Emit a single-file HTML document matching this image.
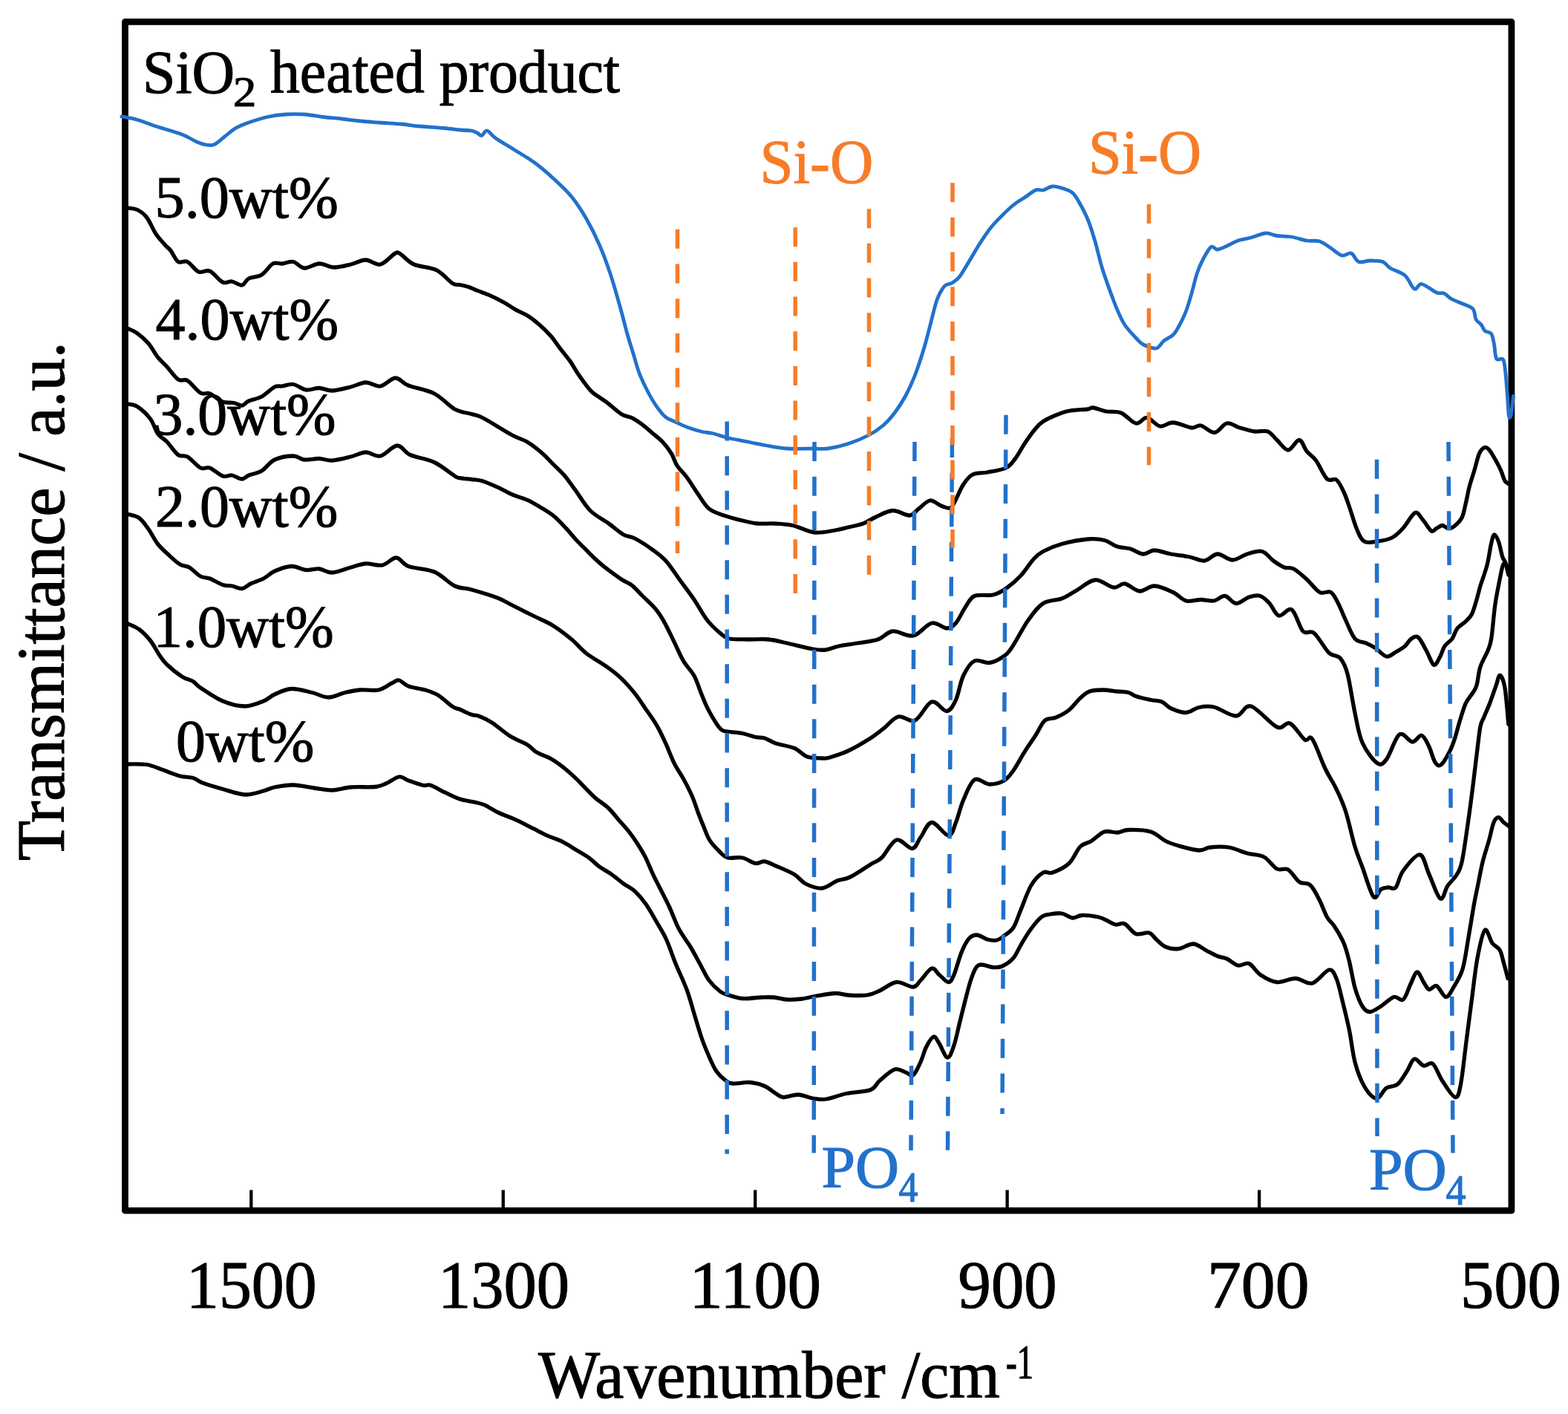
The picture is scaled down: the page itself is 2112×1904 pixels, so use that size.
<!DOCTYPE html>
<html><head><meta charset="utf-8"><title>FTIR spectra</title>
<style>
html,body{margin:0;padding:0;background:#fff;}
body{width:2112px;height:1904px;overflow:hidden;}
svg{display:block;}
text{font-family:"Liberation Serif","Times New Roman",serif;}
</style></head><body>
<svg width="2112" height="1904" viewBox="0 0 2112 1904">
<rect x="0" y="0" width="2112" height="1904" fill="#fff"/>
<rect x="168.5" y="29.35" width="1867.4" height="1600.85" fill="none" stroke="#000" stroke-width="8.8" stroke-linejoin="round"/>
<line x1="338.30" y1="1602.4" x2="338.30" y2="1627" stroke="#000" stroke-width="4.3"/>
<line x1="677.75" y1="1602.4" x2="677.75" y2="1627" stroke="#000" stroke-width="4.3"/>
<line x1="1017.20" y1="1602.4" x2="1017.20" y2="1627" stroke="#000" stroke-width="4.3"/>
<line x1="1356.65" y1="1602.4" x2="1356.65" y2="1627" stroke="#000" stroke-width="4.3"/>
<line x1="1696.10" y1="1602.4" x2="1696.10" y2="1627" stroke="#000" stroke-width="4.3"/>
<g fill="none" stroke-linejoin="round" stroke-linecap="round">
<path d="M163.8,157.0 C167.3,157.7 177.3,159.1 185.0,161.2 C192.7,163.4 200.0,166.7 210.0,170.0 C220.0,173.3 235.8,177.5 245.0,181.0 C254.2,184.5 259.6,188.7 265.0,191.0 C270.4,193.3 273.5,194.4 277.5,195.0 C281.5,195.6 284.6,196.3 288.8,194.5 C292.9,192.7 297.7,187.7 302.5,184.0 C307.3,180.3 312.1,175.7 317.5,172.5 C322.9,169.3 327.9,167.5 335.0,165.0 C342.1,162.5 351.7,159.3 360.0,157.5 C368.3,155.7 376.7,154.6 385.0,154.0 C393.3,153.4 401.7,153.4 410.0,154.0 C418.3,154.6 426.7,156.5 435.0,157.5 C443.3,158.5 451.7,159.1 460.0,160.0 C468.3,160.9 476.7,162.2 485.0,163.0 C493.3,163.8 500.8,164.3 510.0,165.0 C519.2,165.7 530.8,166.2 540.0,167.0 C549.2,167.8 555.4,169.1 565.0,170.0 C574.6,170.9 588.3,171.7 597.5,172.5 C606.7,173.3 613.8,174.4 620.0,175.0 C626.2,175.6 631.2,175.4 635.0,176.0 C638.8,176.6 640.2,177.7 642.5,178.8 C644.8,179.8 646.5,183.0 648.8,182.5 C651.0,182.0 652.9,175.4 656.0,176.0 C659.1,176.6 661.8,182.0 667.5,186.0 C673.2,190.0 681.2,194.5 690.0,200.0 C698.8,205.5 710.8,212.3 720.0,219.0 C729.2,225.7 736.7,232.3 745.0,240.0 C753.3,247.7 762.5,255.8 770.0,265.0 C777.5,274.2 783.8,284.2 790.0,295.0 C796.2,305.8 802.1,317.5 807.5,330.0 C812.9,342.5 817.9,356.2 822.5,370.0 C827.1,383.8 831.2,399.2 835.0,412.5 C838.8,425.8 842.0,439.3 845.0,450.0 C848.0,460.7 850.4,467.8 853.1,476.5 C855.8,485.2 857.7,493.7 861.0,502.3 C864.3,510.9 868.9,520.4 872.9,528.0 C876.9,535.6 880.8,542.2 884.8,547.8 C888.8,553.4 892.6,558.4 896.6,561.7 C900.6,565.0 903.5,565.3 908.5,567.6 C913.5,569.9 920.0,573.2 926.3,575.5 C932.6,577.8 940.5,580.2 946.1,581.5 C951.7,582.8 954.1,582.2 959.8,583.5 C965.4,584.8 972.0,587.6 980.0,589.5 C988.0,591.4 998.8,593.2 1007.5,595.0 C1016.2,596.8 1023.8,598.5 1032.5,600.0 C1041.2,601.5 1049.6,603.3 1060.0,604.0 C1070.4,604.7 1085.8,604.0 1095.0,604.0 C1104.2,604.0 1107.1,605.1 1115.0,604.0 C1122.9,602.9 1133.3,600.5 1142.5,597.5 C1151.7,594.5 1162.1,590.2 1170.0,586.0 C1177.9,581.8 1184.2,577.5 1190.0,572.5 C1195.8,567.5 1200.0,562.7 1205.0,556.0 C1210.0,549.3 1215.4,541.0 1220.0,532.5 C1224.6,524.0 1228.3,515.8 1232.5,505.0 C1236.7,494.2 1241.6,478.8 1245.0,467.5 C1248.4,456.2 1250.1,448.3 1253.0,437.5 C1255.9,426.7 1259.2,411.2 1262.5,402.5 C1265.8,393.8 1269.2,388.6 1272.5,385.0 C1275.8,381.4 1279.2,383.1 1282.5,381.0 C1285.8,378.9 1288.8,377.2 1292.5,372.5 C1296.2,367.8 1300.4,360.0 1305.0,352.5 C1309.6,345.0 1315.0,335.2 1320.0,327.5 C1325.0,319.8 1330.0,312.2 1335.0,306.0 C1340.0,299.8 1345.0,295.0 1350.0,290.0 C1355.0,285.0 1360.0,280.0 1365.0,276.0 C1370.0,272.0 1375.0,269.3 1380.0,266.0 C1385.0,262.7 1390.8,257.7 1395.0,256.0 C1399.2,254.3 1401.2,256.8 1405.0,256.0 C1408.8,255.2 1412.9,251.3 1417.5,251.0 C1422.1,250.7 1427.9,252.5 1432.5,254.0 C1437.1,255.5 1441.2,256.5 1445.0,260.0 C1448.8,263.5 1451.5,268.8 1455.0,275.0 C1458.5,281.2 1462.7,289.2 1466.0,297.5 C1469.3,305.8 1471.8,314.2 1475.0,325.0 C1478.2,335.8 1480.8,349.2 1485.0,362.5 C1489.2,375.8 1496.3,395.1 1500.0,405.0 C1503.7,414.9 1504.5,416.6 1507.0,422.0 C1509.5,427.4 1511.2,432.0 1515.0,437.5 C1518.8,443.0 1525.8,450.6 1530.0,455.0 C1534.2,459.4 1535.4,461.7 1540.0,464.0 C1544.6,466.3 1552.9,469.8 1557.5,469.0 C1562.1,468.2 1563.8,462.0 1567.5,459.0 C1571.2,456.0 1576.7,454.2 1580.0,451.0 C1583.3,447.8 1584.6,445.3 1587.5,440.0 C1590.4,434.7 1594.6,426.5 1597.5,419.0 C1600.4,411.5 1602.5,403.6 1605.0,395.0 C1607.5,386.4 1610.0,375.0 1612.5,367.5 C1615.0,360.0 1616.9,355.8 1620.0,350.0 C1623.1,344.2 1627.9,334.8 1631.2,332.5 C1634.6,330.2 1636.0,336.4 1640.0,336.0 C1644.0,335.6 1650.4,332.0 1655.0,330.0 C1659.6,328.0 1662.5,325.7 1667.5,324.0 C1672.5,322.3 1678.8,321.7 1685.0,320.0 C1691.2,318.3 1699.2,314.4 1705.0,314.0 C1710.8,313.6 1714.2,316.7 1720.0,317.5 C1725.8,318.3 1733.3,317.9 1740.0,319.0 C1746.7,320.1 1753.8,323.0 1760.0,324.0 C1766.2,325.0 1772.1,323.3 1777.5,325.0 C1782.9,326.7 1787.5,330.8 1792.5,334.0 C1797.5,337.2 1802.9,342.8 1807.5,344.0 C1812.1,345.2 1816.2,339.6 1820.0,341.0 C1823.8,342.4 1825.8,350.8 1830.0,352.5 C1834.2,354.2 1839.6,351.0 1845.0,351.0 C1850.4,351.0 1857.9,350.8 1862.5,352.5 C1867.1,354.2 1867.5,357.9 1872.5,361.0 C1877.5,364.1 1887.1,366.3 1892.5,371.0 C1897.9,375.7 1901.2,387.1 1905.0,389.0 C1908.8,390.9 1910.0,381.7 1915.0,382.5 C1920.0,383.3 1930.0,391.9 1935.0,394.0 C1940.0,396.1 1941.7,393.6 1945.0,395.0 C1948.3,396.4 1950.8,400.2 1955.0,402.5 C1959.2,404.8 1965.2,406.8 1970.0,409.0 C1974.8,411.2 1981.0,412.5 1984.0,416.0 C1987.0,419.5 1986.2,426.5 1988.0,430.0 C1989.8,433.5 1993.0,434.4 1995.0,437.0 C1997.0,439.6 1997.7,443.4 2000.0,445.5 C2002.3,447.6 2006.6,446.4 2008.7,449.5 C2010.8,452.6 2011.4,458.4 2012.6,464.0 C2013.8,469.6 2013.6,479.7 2015.6,483.0 C2017.6,486.3 2022.5,481.3 2024.5,484.0 C2026.5,486.7 2026.5,490.8 2027.5,499.0 C2028.5,507.2 2029.6,522.8 2030.4,533.0 C2031.2,543.2 2031.6,555.8 2032.4,560.0 C2033.2,564.2 2034.4,562.4 2035.4,558.0 C2036.4,553.6 2037.9,537.6 2038.4,533.5" stroke="#2271CB" stroke-width="4.8"/>
<path d="M172.5,280.0 C174.6,280.4 180.8,280.4 185.0,282.5 C189.2,284.6 193.3,287.1 197.5,292.5 C201.7,297.9 205.8,308.8 210.0,315.0 C214.2,321.2 219.2,326.2 222.5,330.0 C225.8,333.8 227.1,333.8 230.0,337.5 C232.9,341.2 236.2,350.0 240.0,352.5 C243.8,355.0 247.9,350.2 252.5,352.5 C257.1,354.8 262.5,363.9 267.5,366.0 C272.5,368.1 277.1,362.7 282.5,365.0 C287.9,367.3 295.0,377.7 300.0,380.0 C305.0,382.3 308.2,378.3 312.5,379.0 C316.8,379.7 322.2,384.7 326.0,384.0 C329.8,383.3 330.6,377.3 335.0,375.0 C339.4,372.7 347.1,373.3 352.5,370.0 C357.9,366.7 362.9,357.5 367.5,355.0 C372.1,352.5 375.4,355.4 380.0,355.0 C384.6,354.6 390.0,351.5 395.0,352.5 C400.0,353.5 404.2,360.6 410.0,361.0 C415.8,361.4 423.3,355.2 430.0,355.0 C436.7,354.8 442.9,359.8 450.0,360.0 C457.1,360.2 465.4,357.7 472.5,356.0 C479.6,354.3 485.8,350.0 492.5,350.0 C499.2,350.0 505.8,357.5 512.5,356.0 C519.2,354.5 527.9,343.2 532.5,341.0 C537.1,338.8 535.8,340.0 540.0,342.5 C544.2,345.0 549.5,352.5 557.5,356.0 C565.5,359.5 579.0,359.4 587.7,363.7 C596.4,367.9 604.2,378.2 609.5,381.5 C614.8,384.8 615.8,382.7 619.4,383.5 C623.0,384.3 627.3,385.1 631.3,386.4 C635.3,387.7 638.6,389.6 643.2,391.4 C647.8,393.2 653.1,394.7 659.0,397.3 C664.9,399.9 672.8,403.9 678.8,407.2 C684.8,410.5 689.4,414.1 694.7,417.1 C700.0,420.1 705.2,421.7 710.5,425.0 C715.8,428.3 721.0,432.3 726.3,436.9 C731.6,441.5 737.6,447.5 742.2,452.8 C746.8,458.1 749.7,463.0 754.0,468.6 C758.3,474.2 763.9,480.8 767.9,486.4 C771.9,492.0 774.5,497.4 777.8,502.3 C781.1,507.2 784.4,511.8 787.7,516.1 C791.0,520.4 792.7,523.7 797.6,528.0 C802.5,532.3 810.8,536.9 817.4,541.9 C824.0,546.9 831.6,554.2 837.2,557.7 C842.8,561.2 846.4,560.4 851.0,562.7 C855.6,565.0 860.7,568.5 865.0,571.6 C869.3,574.7 872.2,577.5 876.8,581.5 C881.4,585.5 888.1,590.3 892.7,595.3 C897.3,600.2 901.4,605.9 904.6,611.2 C907.8,616.5 908.6,621.8 912.0,627.0 C915.4,632.2 920.3,636.2 925.0,642.5 C929.7,648.8 935.0,657.9 940.0,665.0 C945.0,672.1 949.2,680.2 955.0,685.0 C960.8,689.8 967.5,691.3 975.0,694.0 C982.5,696.7 992.5,699.2 1000.0,701.0 C1007.5,702.8 1012.9,704.3 1020.0,705.0 C1027.1,705.7 1034.6,704.6 1042.5,705.0 C1050.4,705.4 1058.4,705.5 1067.5,707.5 C1076.6,709.5 1087.4,715.9 1097.0,717.0 C1106.6,718.1 1117.4,715.2 1125.0,714.0 C1132.6,712.8 1136.2,711.5 1142.5,710.0 C1148.8,708.5 1156.2,707.3 1162.5,705.0 C1168.8,702.7 1173.3,698.9 1180.0,696.0 C1186.7,693.1 1195.0,687.8 1202.5,687.5 C1210.0,687.2 1219.2,694.4 1225.0,694.0 C1230.8,693.6 1232.9,688.3 1237.5,685.0 C1242.1,681.7 1247.5,674.7 1252.5,674.0 C1257.5,673.3 1262.9,679.3 1267.5,681.0 C1272.1,682.7 1276.7,685.4 1280.0,684.0 C1283.3,682.6 1284.6,677.8 1287.5,672.5 C1290.4,667.2 1293.8,658.1 1297.5,652.5 C1301.2,646.9 1304.6,641.8 1310.0,639.0 C1315.4,636.2 1322.5,637.5 1330.0,636.0 C1337.5,634.5 1348.8,633.1 1355.0,630.0 C1361.2,626.9 1363.3,622.9 1367.5,617.5 C1371.7,612.1 1375.8,603.8 1380.0,597.5 C1384.2,591.2 1388.3,585.0 1392.5,580.0 C1396.7,575.0 1398.8,571.5 1405.0,567.5 C1411.2,563.5 1423.3,558.5 1430.0,556.0 C1436.7,553.5 1439.2,553.3 1445.0,552.5 C1450.8,551.7 1460.4,551.6 1465.0,551.0 C1469.6,550.4 1468.3,548.5 1472.5,549.0 C1476.7,549.5 1483.8,552.8 1490.0,554.0 C1496.2,555.2 1503.3,553.3 1510.0,556.0 C1516.7,558.7 1524.2,568.9 1530.0,570.0 C1535.8,571.1 1539.6,561.8 1545.0,562.5 C1550.4,563.2 1556.7,572.9 1562.5,574.0 C1568.3,575.1 1572.9,568.7 1580.0,569.0 C1587.1,569.3 1598.8,575.3 1605.0,576.0 C1611.2,576.7 1612.3,571.9 1617.5,573.0 C1622.7,574.1 1630.2,583.0 1636.0,582.5 C1641.8,582.0 1646.8,571.1 1652.5,570.0 C1658.2,568.9 1663.8,574.2 1670.0,576.0 C1676.2,577.8 1683.8,580.2 1690.0,581.0 C1696.2,581.8 1702.5,579.1 1707.5,581.0 C1712.5,582.9 1715.4,588.3 1720.0,592.5 C1724.6,596.7 1730.0,606.0 1735.0,606.0 C1740.0,606.0 1745.8,592.2 1750.0,592.5 C1754.2,592.8 1756.2,602.9 1760.0,607.5 C1763.8,612.1 1767.9,613.8 1772.5,620.0 C1777.1,626.2 1782.9,640.7 1787.5,645.0 C1792.1,649.3 1796.2,643.1 1800.0,646.0 C1803.8,648.9 1807.1,656.4 1810.0,662.5 C1812.9,668.6 1814.6,674.2 1817.5,682.5 C1820.4,690.8 1824.2,704.8 1827.5,712.5 C1830.8,720.2 1832.9,726.2 1837.5,729.0 C1842.1,731.8 1848.8,729.8 1855.0,729.0 C1861.2,728.2 1869.2,727.0 1875.0,724.0 C1880.8,721.0 1884.8,716.6 1890.0,711.0 C1895.2,705.4 1901.6,692.3 1906.0,690.5 C1910.4,688.7 1912.8,695.9 1916.5,700.0 C1920.2,704.1 1925.0,713.1 1928.0,715.0 C1931.0,716.9 1932.1,712.9 1934.6,711.6 C1937.1,710.4 1940.1,707.5 1942.8,707.5 C1945.5,707.5 1948.2,711.5 1951.0,711.6 C1953.8,711.7 1956.3,710.8 1959.3,708.3 C1962.3,705.8 1966.7,701.8 1969.2,696.8 C1971.7,691.8 1972.4,685.5 1974.1,678.6 C1975.8,671.7 1977.2,663.0 1979.1,655.6 C1981.0,648.2 1983.5,641.5 1985.7,634.1 C1987.9,626.7 1990.1,616.3 1992.3,611.1 C1994.5,605.9 1996.7,603.8 1998.9,602.8 C2001.1,601.8 2002.8,602.3 2005.5,605.3 C2008.2,608.3 2012.6,616.2 2015.3,621.0 C2018.0,625.8 2020.0,629.7 2021.9,634.1 C2023.8,638.5 2025.2,644.4 2026.9,647.3 C2028.6,650.2 2031.0,650.7 2031.8,651.4" stroke="#000" stroke-width="5.3"/>
<path d="M172.5,442.5 C174.6,443.5 180.4,445.4 185.0,448.8 C189.6,452.1 195.4,457.1 200.0,462.5 C204.6,467.9 208.3,475.8 212.5,481.0 C216.7,486.2 220.4,489.0 225.0,494.0 C229.6,499.0 235.4,507.9 240.0,511.0 C244.6,514.1 247.5,509.5 252.5,512.5 C257.5,515.5 265.0,526.1 270.0,529.0 C275.0,531.9 277.5,528.0 282.5,530.0 C287.5,532.0 294.6,538.9 300.0,541.0 C305.4,543.1 310.7,541.7 315.0,542.5 C319.3,543.3 322.7,546.4 326.0,546.0 C329.3,545.6 330.6,542.0 335.0,540.0 C339.4,538.0 346.7,537.2 352.5,534.0 C358.3,530.8 365.4,523.3 370.0,521.0 C374.6,518.7 375.8,520.6 380.0,520.0 C384.2,519.4 389.6,516.7 395.0,517.5 C400.4,518.3 406.7,524.2 412.5,525.0 C418.3,525.8 424.2,522.3 430.0,522.5 C435.8,522.7 440.4,526.2 447.5,526.0 C454.6,525.8 465.0,522.8 472.5,521.0 C480.0,519.2 485.8,515.2 492.5,515.0 C499.2,514.8 505.8,521.0 512.5,520.0 C519.2,519.0 526.2,509.2 532.5,509.0 C538.8,508.8 541.2,515.5 550.0,519.0 C558.8,522.5 574.6,524.7 585.0,530.0 C595.4,535.3 604.2,546.4 612.5,551.0 C620.8,555.6 628.8,555.6 635.0,557.5 C641.2,559.4 640.8,557.8 650.0,562.5 C659.2,567.2 680.0,580.6 690.0,586.0 C700.0,591.4 703.3,591.0 710.0,595.0 C716.7,599.0 724.2,605.0 730.0,610.0 C735.8,615.0 740.0,620.0 745.0,625.0 C750.0,630.0 755.0,634.2 760.0,640.0 C765.0,645.8 769.2,652.1 775.0,660.0 C780.8,667.9 787.5,680.0 795.0,687.5 C802.5,695.0 812.5,699.6 820.0,705.0 C827.5,710.4 834.2,716.7 840.0,720.0 C845.8,723.3 848.3,721.5 855.0,725.0 C861.7,728.5 872.9,735.8 880.0,741.0 C887.1,746.2 891.7,749.5 897.5,756.0 C903.3,762.5 908.8,771.4 915.0,780.0 C921.2,788.6 928.8,798.3 935.0,807.5 C941.2,816.7 946.7,827.5 952.5,835.0 C958.3,842.5 965.0,848.3 970.0,852.5 C975.0,856.7 976.2,858.6 982.5,860.0 C988.8,861.4 998.8,860.8 1007.5,861.0 C1016.2,861.2 1026.2,860.2 1035.0,861.0 C1043.8,861.8 1050.0,863.8 1060.0,866.0 C1070.0,868.2 1086.2,872.5 1095.0,874.0 C1103.8,875.5 1106.7,875.7 1112.5,875.0 C1118.3,874.3 1122.9,871.5 1130.0,870.0 C1137.1,868.5 1146.2,867.5 1155.0,866.0 C1163.8,864.5 1174.6,863.7 1182.5,861.0 C1190.4,858.3 1194.6,850.8 1202.5,850.0 C1210.4,849.2 1221.2,857.8 1230.0,856.0 C1238.8,854.2 1247.5,840.7 1255.0,839.0 C1262.5,837.3 1269.6,846.0 1275.0,846.0 C1280.4,846.0 1283.3,843.7 1287.5,839.0 C1291.7,834.3 1295.8,824.1 1300.0,818.0 C1304.2,811.9 1306.2,805.3 1312.5,802.5 C1318.8,799.7 1330.4,802.7 1337.5,801.0 C1344.6,799.3 1348.8,796.8 1355.0,792.5 C1361.2,788.2 1368.8,781.7 1375.0,775.0 C1381.2,768.3 1387.5,757.9 1392.5,752.5 C1397.5,747.1 1398.8,745.8 1405.0,742.5 C1411.2,739.2 1420.0,735.2 1430.0,732.5 C1440.0,729.8 1455.4,726.8 1465.0,726.0 C1474.6,725.2 1480.8,725.8 1487.5,727.5 C1494.2,729.2 1499.2,734.1 1505.0,736.0 C1510.8,737.9 1516.7,737.3 1522.5,739.0 C1528.3,740.7 1534.6,745.7 1540.0,746.0 C1545.4,746.3 1548.8,741.0 1555.0,741.0 C1561.2,741.0 1569.1,744.5 1577.0,746.0 C1584.9,747.5 1594.9,748.5 1602.5,750.0 C1610.1,751.5 1616.2,755.7 1622.5,755.0 C1628.8,754.3 1633.8,746.2 1640.0,746.0 C1646.2,745.8 1653.3,754.0 1660.0,754.0 C1666.7,754.0 1673.3,747.9 1680.0,746.0 C1686.7,744.1 1694.2,741.0 1700.0,742.5 C1705.8,744.0 1710.0,751.4 1715.0,755.0 C1720.0,758.6 1725.4,762.2 1730.0,764.0 C1734.6,765.8 1737.5,763.3 1742.5,766.0 C1747.5,768.7 1754.2,774.8 1760.0,780.0 C1765.8,785.2 1772.1,794.6 1777.5,797.5 C1782.9,800.4 1788.3,795.0 1792.5,797.5 C1796.7,800.0 1799.2,806.2 1802.5,812.5 C1805.8,818.8 1808.8,827.1 1812.5,835.0 C1816.2,842.9 1820.4,854.8 1825.0,860.0 C1829.6,865.2 1835.4,863.9 1840.0,866.0 C1844.6,868.1 1847.9,869.5 1852.5,872.5 C1857.1,875.5 1862.9,883.1 1867.5,884.0 C1872.1,884.9 1875.8,880.3 1880.0,878.0 C1884.2,875.7 1889.2,872.8 1892.5,870.0 C1895.8,867.2 1897.1,863.0 1900.0,861.0 C1902.9,859.0 1906.4,855.4 1910.0,858.0 C1913.6,860.6 1917.9,870.3 1921.4,876.5 C1925.0,882.7 1928.3,894.0 1931.3,895.4 C1934.3,896.8 1937.0,888.9 1939.5,884.7 C1942.0,880.5 1943.2,874.1 1946.0,870.0 C1948.8,865.9 1953.2,863.9 1956.0,860.0 C1958.8,856.1 1959.6,850.6 1962.6,846.7 C1965.6,842.8 1970.8,840.1 1974.1,836.8 C1977.4,833.5 1979.9,831.9 1982.4,827.0 C1984.9,822.1 1987.1,813.5 1989.0,807.2 C1990.9,800.9 1992.2,794.5 1993.9,789.0 C1995.6,783.5 1997.2,779.4 1998.9,774.2 C2000.6,769.0 2002.2,764.8 2003.8,757.7 C2005.4,750.6 2007.2,737.7 2008.7,731.4 C2010.2,725.1 2011.2,720.1 2012.9,719.8 C2014.6,719.5 2016.8,724.8 2018.6,729.7 C2020.4,734.7 2022.1,744.8 2023.6,749.5 C2025.1,754.2 2026.3,753.6 2027.7,757.7 C2029.1,761.8 2031.1,771.5 2031.8,774.2" stroke="#000" stroke-width="5.3"/>
<path d="M172.5,544.0 C174.6,544.6 180.0,544.2 185.0,547.5 C190.0,550.8 197.9,557.9 202.5,564.0 C207.1,570.1 208.8,578.8 212.5,584.0 C216.2,589.2 220.4,590.2 225.0,595.0 C229.6,599.8 235.4,609.2 240.0,612.5 C244.6,615.8 247.5,612.1 252.5,615.0 C257.5,617.9 265.0,627.5 270.0,630.0 C275.0,632.5 277.5,628.2 282.5,630.0 C287.5,631.8 295.0,639.3 300.0,641.0 C305.0,642.7 308.2,639.3 312.5,640.0 C316.8,640.7 322.2,645.0 326.0,645.0 C329.8,645.0 330.6,641.8 335.0,640.0 C339.4,638.2 346.7,637.5 352.5,634.0 C358.3,630.5 362.9,622.3 370.0,619.0 C377.1,615.7 388.3,614.0 395.0,614.0 C401.7,614.0 404.2,618.4 410.0,619.0 C415.8,619.6 423.8,617.3 430.0,617.5 C436.2,617.7 440.4,620.4 447.5,620.0 C454.6,619.6 465.0,616.8 472.5,615.0 C480.0,613.2 485.8,609.2 492.5,609.0 C499.2,608.8 505.4,615.5 512.5,614.0 C519.6,612.5 528.3,600.2 535.0,600.0 C541.7,599.8 544.2,608.8 552.5,612.5 C560.8,616.2 575.0,617.8 585.0,622.5 C595.0,627.2 606.8,637.5 612.5,641.0 C618.2,644.5 615.6,642.9 619.4,643.6 C623.1,644.4 630.0,644.9 635.0,645.5 C640.0,646.1 643.1,645.7 649.1,647.5 C655.1,649.3 664.0,653.3 670.9,656.4 C677.8,659.5 684.1,663.5 690.7,666.3 C697.3,669.1 704.2,670.5 710.5,673.3 C716.8,676.1 722.4,679.6 728.3,683.2 C734.2,686.8 740.5,690.4 746.1,695.0 C751.7,699.6 757.0,705.6 762.0,710.9 C767.0,716.2 771.5,722.1 775.8,726.7 C780.1,731.3 783.4,734.3 787.7,738.6 C792.0,742.9 797.0,748.2 801.6,752.5 C806.2,756.8 809.5,759.8 815.4,764.4 C821.3,769.0 831.2,776.2 837.2,780.2 C843.2,784.2 846.5,784.5 851.1,788.1 C855.7,791.7 859.7,796.7 865.0,802.0 C870.3,807.3 877.8,813.9 882.8,819.8 C887.8,825.7 890.4,830.0 894.7,837.6 C899.0,845.2 904.2,856.6 908.5,865.3 C912.8,874.0 916.0,882.4 920.4,889.9 C924.8,897.4 930.9,902.5 935.0,910.0 C939.1,917.5 941.7,927.1 945.0,935.0 C948.3,942.9 950.8,949.8 955.0,957.5 C959.2,965.2 965.8,976.4 970.0,981.0 C974.2,985.6 975.0,983.9 980.0,985.0 C985.0,986.1 993.8,986.2 1000.0,987.5 C1006.2,988.8 1012.5,991.4 1017.5,992.5 C1022.5,993.6 1025.4,992.6 1030.0,994.0 C1034.6,995.4 1038.3,998.8 1045.0,1001.0 C1051.7,1003.2 1062.9,1004.5 1070.0,1007.5 C1077.1,1010.5 1081.2,1016.8 1087.5,1019.0 C1093.8,1021.2 1102.5,1020.8 1107.5,1021.0 C1112.5,1021.2 1111.7,1021.7 1117.5,1020.0 C1123.3,1018.3 1133.3,1015.3 1142.5,1011.0 C1151.7,1006.7 1164.6,999.0 1172.5,994.0 C1180.4,989.0 1183.8,985.8 1190.0,981.0 C1196.2,976.2 1202.9,966.8 1210.0,965.0 C1217.1,963.2 1225.0,973.3 1232.5,970.0 C1240.0,966.7 1247.9,947.1 1255.0,945.0 C1262.1,942.9 1269.6,957.9 1275.0,957.5 C1280.4,957.1 1283.8,950.4 1287.5,942.5 C1291.2,934.6 1293.3,918.8 1297.5,910.0 C1301.7,901.2 1306.7,892.9 1312.5,890.0 C1318.3,887.1 1326.2,893.3 1332.5,892.5 C1338.8,891.7 1345.0,888.3 1350.0,885.0 C1355.0,881.7 1356.7,880.8 1362.5,872.5 C1368.3,864.2 1377.9,845.0 1385.0,835.0 C1392.1,825.0 1397.5,817.3 1405.0,812.5 C1412.5,807.7 1422.5,808.9 1430.0,806.0 C1437.5,803.1 1442.5,799.2 1450.0,795.0 C1457.5,790.8 1466.7,781.7 1475.0,781.0 C1483.3,780.3 1493.3,790.2 1500.0,791.0 C1506.7,791.8 1509.2,785.2 1515.0,786.0 C1520.8,786.8 1528.3,795.5 1535.0,796.0 C1541.7,796.5 1547.5,788.8 1555.0,789.0 C1562.5,789.2 1572.9,794.2 1580.0,797.5 C1587.1,800.8 1591.2,807.3 1597.5,809.0 C1603.8,810.7 1611.2,807.5 1617.5,807.5 C1623.8,807.5 1629.6,809.8 1635.0,809.0 C1640.4,808.2 1645.0,801.9 1650.0,802.5 C1655.0,803.1 1659.6,812.2 1665.0,812.5 C1670.4,812.8 1677.1,805.7 1682.5,804.0 C1687.9,802.3 1692.9,801.1 1697.5,802.5 C1702.1,803.9 1705.8,808.1 1710.0,812.5 C1714.2,816.9 1717.5,827.6 1722.5,829.0 C1727.5,830.4 1734.6,817.5 1740.0,821.0 C1745.4,824.5 1750.0,844.8 1755.0,850.0 C1760.0,855.2 1764.2,847.7 1770.0,852.5 C1775.8,857.3 1784.2,873.4 1790.0,879.0 C1795.8,884.6 1800.8,881.2 1805.0,886.0 C1809.2,890.8 1811.7,895.2 1815.0,907.5 C1818.3,919.8 1821.7,944.6 1825.0,960.0 C1828.3,975.4 1830.0,988.8 1835.0,1000.0 C1840.0,1011.2 1849.6,1023.8 1855.0,1027.5 C1860.4,1031.2 1862.5,1028.9 1867.5,1022.5 C1872.5,1016.1 1879.2,992.9 1885.0,989.0 C1890.8,985.1 1897.5,998.8 1902.5,999.0 C1907.5,999.2 1911.1,989.2 1914.8,990.2 C1918.5,991.2 1921.7,999.0 1924.7,1005.0 C1927.7,1011.0 1930.2,1022.3 1933.0,1026.4 C1935.8,1030.5 1937.9,1032.2 1941.2,1029.7 C1944.5,1027.2 1949.7,1017.4 1952.7,1011.6 C1955.7,1005.8 1957.1,1001.7 1959.3,995.1 C1961.5,988.5 1963.4,980.0 1965.9,972.0 C1968.4,964.0 1971.1,953.9 1974.1,947.3 C1977.1,940.7 1981.5,936.6 1984.0,932.5 C1986.5,928.4 1987.3,928.4 1989.0,922.6 C1990.7,916.8 1991.4,905.6 1993.9,897.9 C1996.4,890.2 2001.3,882.8 2003.8,876.5 C2006.3,870.2 2007.0,870.2 2008.7,860.0 C2010.4,849.8 2011.8,828.9 2013.7,815.4 C2015.6,801.9 2018.4,788.4 2020.3,779.1 C2022.2,769.8 2023.3,761.9 2025.2,759.4 C2027.1,756.9 2030.7,763.5 2031.8,764.3" stroke="#000" stroke-width="5.3"/>
<path d="M172.5,692.5 C175.0,693.3 182.9,694.2 187.5,697.5 C192.1,700.8 195.8,706.7 200.0,712.5 C204.2,718.3 207.9,726.7 212.5,732.5 C217.1,738.3 222.5,742.9 227.5,747.5 C232.5,752.1 237.9,757.2 242.5,760.0 C247.1,762.8 250.4,761.3 255.0,764.0 C259.6,766.7 265.4,773.5 270.0,776.0 C274.6,778.5 277.5,777.1 282.5,779.0 C287.5,780.9 295.0,785.8 300.0,787.5 C305.0,789.2 308.2,788.2 312.5,789.0 C316.8,789.8 321.8,793.0 326.0,792.5 C330.2,792.0 332.7,788.2 337.5,786.0 C342.3,783.8 349.6,781.8 355.0,779.0 C360.4,776.2 363.8,771.8 370.0,769.0 C376.2,766.2 385.4,762.8 392.5,762.5 C399.6,762.2 406.2,766.9 412.5,767.5 C418.8,768.1 424.2,765.4 430.0,766.0 C435.8,766.6 440.4,771.3 447.5,771.0 C454.6,770.7 465.0,766.0 472.5,764.0 C480.0,762.0 485.4,759.5 492.5,759.0 C499.6,758.5 508.1,762.3 515.0,761.0 C521.9,759.7 527.9,750.8 533.8,751.0 C539.6,751.2 541.5,759.3 550.0,762.5 C558.5,765.7 574.6,765.6 585.0,770.0 C595.4,774.4 604.2,785.0 612.5,789.0 C620.8,793.0 625.4,791.3 635.0,794.0 C644.6,796.7 660.8,801.5 670.0,805.0 C679.2,808.5 681.7,810.8 690.0,815.0 C698.3,819.2 710.8,825.4 720.0,830.0 C729.2,834.6 736.7,837.3 745.0,842.5 C753.3,847.7 762.5,854.8 770.0,861.0 C777.5,867.2 782.1,873.9 790.0,880.0 C797.9,886.1 809.5,892.3 817.4,897.9 C825.3,903.5 830.9,907.8 837.2,913.8 C843.5,919.8 849.7,927.0 855.0,933.6 C860.3,940.2 863.9,946.1 868.9,953.4 C873.9,960.6 880.2,969.2 884.8,977.1 C889.4,985.0 892.6,992.3 896.6,1000.9 C900.6,1009.5 904.5,1020.7 908.5,1028.6 C912.5,1036.5 916.4,1041.1 920.4,1048.4 C924.4,1055.7 929.0,1064.6 932.3,1072.2 C935.6,1079.8 937.6,1087.1 940.2,1094.0 C942.8,1100.9 945.5,1107.5 948.1,1113.8 C950.7,1120.1 952.4,1126.0 956.0,1131.6 C959.6,1137.2 966.0,1143.6 970.0,1147.5 C974.0,1151.4 975.0,1153.8 980.0,1155.0 C985.0,1156.2 993.8,1153.8 1000.0,1155.0 C1006.2,1156.2 1012.5,1161.7 1017.5,1162.5 C1022.5,1163.3 1025.4,1159.4 1030.0,1160.0 C1034.6,1160.6 1038.3,1163.1 1045.0,1166.0 C1051.7,1168.9 1063.3,1173.5 1070.0,1177.5 C1076.7,1181.5 1078.8,1186.9 1085.0,1190.0 C1091.2,1193.1 1100.4,1196.7 1107.5,1196.0 C1114.6,1195.3 1121.2,1188.5 1127.5,1186.0 C1133.8,1183.5 1137.5,1184.7 1145.0,1181.0 C1152.5,1177.3 1165.4,1168.3 1172.5,1164.0 C1179.6,1159.7 1181.7,1160.5 1187.5,1155.0 C1193.3,1149.5 1200.6,1133.1 1207.5,1131.0 C1214.4,1128.9 1223.3,1143.1 1228.8,1142.5 C1234.2,1141.9 1235.6,1133.3 1240.0,1127.5 C1244.4,1121.7 1248.8,1107.9 1255.0,1107.5 C1261.2,1107.1 1272.1,1125.0 1277.5,1125.0 C1282.9,1125.0 1284.2,1115.4 1287.5,1107.5 C1290.8,1099.6 1293.3,1087.1 1297.5,1077.5 C1301.7,1067.9 1306.7,1053.6 1312.5,1050.0 C1318.3,1046.4 1325.8,1055.8 1332.5,1056.0 C1339.2,1056.2 1347.1,1054.1 1352.5,1051.0 C1357.9,1047.9 1360.4,1043.9 1365.0,1037.5 C1369.6,1031.1 1375.0,1020.4 1380.0,1012.5 C1385.0,1004.6 1390.4,997.1 1395.0,990.0 C1399.6,982.9 1402.9,974.0 1407.5,970.0 C1412.1,966.0 1417.1,968.3 1422.5,966.0 C1427.9,963.7 1434.6,960.3 1440.0,956.0 C1445.4,951.7 1450.4,944.2 1455.0,940.0 C1459.6,935.8 1462.5,932.8 1467.5,931.0 C1472.5,929.2 1478.8,929.0 1485.0,929.0 C1491.2,929.0 1499.2,930.4 1505.0,931.0 C1510.8,931.6 1515.8,931.4 1520.0,932.5 C1524.2,933.6 1525.0,935.8 1530.0,937.5 C1535.0,939.2 1544.2,941.2 1550.0,942.5 C1555.8,943.8 1560.4,943.1 1565.0,945.0 C1569.6,946.9 1572.1,951.6 1577.5,954.0 C1582.9,956.4 1591.2,959.8 1597.5,959.5 C1603.8,959.2 1608.8,953.8 1615.0,952.5 C1621.2,951.2 1626.7,950.1 1635.0,952.0 C1643.3,953.9 1656.7,964.2 1665.0,964.0 C1673.3,963.8 1675.8,948.5 1685.0,951.0 C1694.2,953.5 1711.2,975.2 1720.0,979.0 C1728.8,982.8 1731.2,971.2 1737.5,974.0 C1743.8,976.8 1752.5,992.5 1757.5,996.0 C1762.5,999.5 1762.9,988.5 1767.5,995.0 C1772.1,1001.5 1779.6,1023.8 1785.0,1035.0 C1790.4,1046.2 1795.4,1052.9 1800.0,1062.5 C1804.6,1072.1 1808.3,1079.6 1812.5,1092.5 C1816.7,1105.4 1821.2,1127.5 1825.0,1140.0 C1828.8,1152.5 1830.8,1156.2 1835.0,1167.5 C1839.2,1178.8 1845.8,1202.5 1850.0,1207.5 C1854.2,1212.5 1856.7,1199.6 1860.0,1197.5 C1863.3,1195.4 1866.7,1195.4 1870.0,1195.0 C1873.3,1194.6 1876.7,1198.8 1880.0,1195.0 C1883.3,1191.2 1884.6,1179.8 1890.0,1172.5 C1895.4,1165.2 1906.7,1150.2 1912.5,1151.0 C1918.3,1151.8 1920.4,1167.7 1925.0,1177.5 C1929.6,1187.3 1935.8,1207.5 1940.0,1210.0 C1944.2,1212.5 1946.3,1197.8 1950.0,1192.5 C1953.7,1187.2 1958.8,1183.4 1962.0,1178.0 C1965.2,1172.6 1966.6,1171.8 1969.2,1160.0 C1971.8,1148.2 1974.9,1124.2 1977.4,1107.2 C1979.9,1090.2 1982.1,1072.8 1984.0,1057.7 C1985.9,1042.6 1987.3,1029.7 1989.0,1016.5 C1990.7,1003.3 1992.2,987.1 1993.9,978.6 C1995.6,970.1 1996.7,971.0 1998.9,965.5 C2001.1,960.0 2004.4,952.9 2007.1,945.7 C2009.8,938.6 2013.1,928.7 2015.3,922.6 C2017.5,916.5 2018.4,908.9 2020.3,909.4 C2022.2,909.9 2025.0,914.9 2026.9,925.9 C2028.8,936.9 2031.0,967.1 2031.8,975.3" stroke="#000" stroke-width="5.3"/>
<path d="M172.5,840.0 C175.0,841.2 182.5,843.8 187.5,847.5 C192.5,851.2 197.9,856.7 202.5,862.5 C207.1,868.3 211.2,877.1 215.0,882.5 C218.8,887.9 220.0,890.2 225.0,895.0 C230.0,899.8 239.2,907.2 245.0,911.0 C250.8,914.8 255.8,915.0 260.0,917.5 C264.2,920.0 263.3,921.6 270.0,926.0 C276.7,930.4 290.0,939.8 300.0,944.0 C310.0,948.2 320.8,951.0 330.0,951.0 C339.2,951.0 348.3,946.7 355.0,944.0 C361.7,941.3 363.8,937.8 370.0,935.0 C376.2,932.2 384.2,927.9 392.5,927.5 C400.8,927.1 411.7,930.6 420.0,932.5 C428.3,934.4 435.0,939.0 442.5,939.0 C450.0,939.0 457.9,934.2 465.0,932.5 C472.1,930.8 477.5,929.6 485.0,929.0 C492.5,928.4 502.9,930.5 510.0,929.0 C517.1,927.5 522.9,922.2 527.5,920.0 C532.1,917.8 533.8,915.3 537.5,916.0 C541.2,916.7 544.2,921.8 550.0,924.0 C555.8,926.2 565.8,927.0 572.5,929.0 C579.2,931.0 583.8,932.3 590.0,936.0 C596.2,939.7 604.6,948.2 609.5,951.4 C614.4,954.6 615.1,953.5 619.4,955.3 C623.7,957.1 630.9,960.8 635.2,962.3 C639.5,963.8 640.5,962.5 645.1,964.3 C649.7,966.1 656.1,968.8 663.0,973.2 C669.9,977.7 678.8,986.0 686.7,991.0 C694.6,996.0 704.5,999.3 710.5,1002.9 C716.5,1006.5 717.1,1009.7 722.4,1012.8 C727.7,1015.9 736.3,1018.4 742.2,1021.7 C748.1,1025.0 752.7,1028.5 758.0,1032.6 C763.3,1036.7 768.9,1041.8 773.9,1046.4 C778.9,1051.0 783.1,1055.7 787.7,1060.3 C792.3,1064.9 796.3,1069.6 801.6,1074.2 C806.9,1078.8 814.1,1083.0 819.4,1088.0 C824.7,1093.0 828.7,1098.6 833.3,1103.9 C837.9,1109.2 843.1,1114.8 847.1,1119.8 C851.1,1124.8 853.4,1128.0 857.0,1133.6 C860.6,1139.2 864.9,1145.8 868.9,1153.5 C872.9,1161.2 875.4,1168.8 880.8,1179.9 C886.1,1191.0 895.5,1208.3 901.0,1220.0 C906.5,1231.7 909.2,1240.8 914.0,1250.0 C918.8,1259.2 925.2,1267.1 930.0,1275.0 C934.8,1282.9 938.3,1290.0 942.5,1297.5 C946.7,1305.0 950.4,1313.8 955.0,1320.0 C959.6,1326.2 965.8,1331.8 970.0,1335.0 C974.2,1338.2 975.0,1337.9 980.0,1339.5 C985.0,1341.1 992.5,1343.9 1000.0,1344.5 C1007.5,1345.1 1017.9,1343.2 1025.0,1343.0 C1032.1,1342.8 1036.7,1342.5 1042.5,1343.0 C1048.3,1343.5 1053.8,1345.7 1060.0,1346.0 C1066.2,1346.3 1073.3,1345.8 1080.0,1345.0 C1086.7,1344.2 1092.5,1342.2 1100.0,1341.0 C1107.5,1339.8 1117.9,1337.7 1125.0,1337.5 C1132.1,1337.3 1135.4,1339.6 1142.5,1340.0 C1149.6,1340.4 1160.4,1341.0 1167.5,1340.0 C1174.6,1339.0 1178.3,1336.9 1185.0,1334.0 C1191.7,1331.1 1200.0,1323.3 1207.5,1322.5 C1215.0,1321.7 1224.6,1329.4 1230.0,1329.0 C1235.4,1328.6 1235.8,1324.2 1240.0,1320.0 C1244.2,1315.8 1250.8,1305.2 1255.0,1304.0 C1259.2,1302.8 1261.2,1309.4 1265.0,1312.5 C1268.8,1315.6 1274.2,1322.5 1277.5,1322.5 C1280.8,1322.5 1282.1,1319.2 1285.0,1312.5 C1287.9,1305.8 1291.7,1290.6 1295.0,1282.5 C1298.3,1274.4 1301.5,1267.9 1305.0,1264.0 C1308.5,1260.1 1311.8,1258.8 1316.0,1259.0 C1320.2,1259.2 1325.6,1263.8 1330.0,1265.0 C1334.4,1266.2 1338.8,1266.8 1342.5,1266.0 C1346.2,1265.2 1348.8,1262.8 1352.5,1260.0 C1356.2,1257.2 1361.2,1254.8 1365.0,1249.0 C1368.8,1243.2 1371.0,1234.5 1375.0,1225.0 C1379.0,1215.5 1384.0,1200.3 1389.0,1192.0 C1394.0,1183.7 1400.2,1177.8 1405.0,1175.0 C1409.8,1172.2 1411.7,1177.1 1417.5,1175.0 C1423.3,1172.9 1433.8,1168.3 1440.0,1162.5 C1446.2,1156.7 1450.0,1145.0 1455.0,1140.0 C1460.0,1135.0 1464.6,1135.8 1470.0,1132.5 C1475.4,1129.2 1481.7,1121.9 1487.5,1120.0 C1493.3,1118.1 1499.6,1121.4 1505.0,1121.0 C1510.4,1120.6 1512.5,1117.7 1520.0,1117.5 C1527.5,1117.3 1541.7,1117.5 1550.0,1120.0 C1558.3,1122.5 1563.7,1129.3 1570.0,1132.5 C1576.3,1135.7 1580.5,1136.9 1588.0,1139.0 C1595.5,1141.1 1608.0,1144.7 1615.0,1145.0 C1622.0,1145.3 1623.3,1141.7 1630.0,1141.0 C1636.7,1140.3 1646.7,1139.7 1655.0,1141.0 C1663.3,1142.3 1672.1,1146.8 1680.0,1149.0 C1687.9,1151.2 1695.8,1150.5 1702.5,1154.0 C1709.2,1157.5 1714.6,1167.2 1720.0,1170.0 C1725.4,1172.8 1730.0,1168.1 1735.0,1171.0 C1740.0,1173.9 1745.0,1184.0 1750.0,1187.5 C1755.0,1191.0 1760.4,1187.8 1765.0,1192.0 C1769.6,1196.2 1773.8,1205.3 1777.5,1212.5 C1781.2,1219.7 1784.2,1229.2 1787.5,1235.0 C1790.8,1240.8 1793.8,1241.7 1797.5,1247.5 C1801.2,1253.3 1806.7,1262.1 1810.0,1270.0 C1813.3,1277.9 1815.0,1285.0 1817.5,1295.0 C1820.0,1305.0 1822.1,1320.0 1825.0,1330.0 C1827.9,1340.0 1831.7,1349.6 1835.0,1355.0 C1838.3,1360.4 1840.8,1362.5 1845.0,1362.5 C1849.2,1362.5 1854.6,1358.3 1860.0,1355.0 C1865.4,1351.7 1872.5,1344.0 1877.5,1342.5 C1882.5,1341.0 1886.2,1348.9 1890.0,1346.0 C1893.8,1343.1 1896.9,1331.2 1900.0,1325.0 C1903.1,1318.8 1905.8,1309.4 1908.8,1309.0 C1911.7,1308.6 1914.8,1318.6 1917.5,1322.5 C1920.2,1326.4 1922.1,1331.7 1925.0,1332.5 C1927.9,1333.3 1931.2,1325.8 1935.0,1327.5 C1938.8,1329.2 1943.8,1342.1 1947.5,1342.5 C1951.2,1342.9 1953.8,1336.2 1957.5,1330.0 C1961.2,1323.8 1966.7,1315.8 1970.0,1305.0 C1973.3,1294.2 1975.0,1279.2 1977.5,1265.0 C1980.0,1250.8 1982.8,1232.5 1985.0,1220.0 C1987.2,1207.5 1989.0,1200.0 1991.0,1190.0 C1993.0,1180.0 1994.8,1169.7 1997.2,1160.0 C1999.6,1150.3 2003.0,1140.7 2005.5,1131.9 C2008.0,1123.1 2009.8,1112.4 2012.0,1107.2 C2014.2,1102.0 2016.4,1100.6 2018.6,1100.6 C2020.8,1100.6 2023.0,1105.3 2025.2,1107.2 C2027.4,1109.1 2030.7,1111.3 2031.8,1112.1" stroke="#000" stroke-width="5.3"/>
<path d="M172.5,1029.0 C176.7,1029.1 190.0,1028.3 197.5,1029.5 C205.0,1030.7 210.0,1033.4 217.5,1036.0 C225.0,1038.6 235.4,1043.1 242.5,1045.0 C249.6,1046.9 255.0,1046.0 260.0,1047.5 C265.0,1049.0 265.8,1051.5 272.5,1054.0 C279.2,1056.5 290.4,1059.8 300.0,1062.5 C309.6,1065.2 320.8,1069.6 330.0,1070.0 C339.2,1070.4 348.3,1066.7 355.0,1065.0 C361.7,1063.3 363.3,1061.3 370.0,1060.0 C376.7,1058.7 386.2,1056.8 395.0,1057.0 C403.8,1057.2 413.8,1059.8 422.5,1061.0 C431.2,1062.2 439.2,1064.2 447.5,1064.0 C455.8,1063.8 462.9,1060.8 472.5,1060.0 C482.1,1059.2 497.1,1060.3 505.0,1059.5 C512.9,1058.7 514.6,1057.2 520.0,1055.0 C525.4,1052.8 532.5,1046.7 537.5,1046.0 C542.5,1045.3 544.6,1049.1 550.0,1051.0 C555.4,1052.9 565.0,1056.5 570.0,1057.5 C575.0,1058.5 574.9,1055.7 579.8,1057.3 C584.7,1058.9 593.0,1064.1 599.6,1067.2 C606.2,1070.3 612.8,1073.9 619.4,1076.1 C626.0,1078.2 633.6,1078.8 639.2,1080.1 C644.8,1081.4 647.8,1081.8 653.1,1084.1 C658.4,1086.4 664.0,1090.7 670.9,1094.0 C677.8,1097.3 686.8,1100.3 694.7,1103.9 C702.6,1107.5 711.1,1112.1 718.4,1115.7 C725.6,1119.3 731.6,1122.6 738.2,1125.6 C744.8,1128.6 751.4,1130.3 758.0,1133.6 C764.6,1136.9 771.8,1141.9 777.8,1145.5 C783.8,1149.1 788.8,1151.8 793.7,1155.4 C798.7,1159.0 802.5,1163.6 807.5,1167.2 C812.5,1170.8 818.0,1173.3 823.4,1177.1 C828.8,1180.9 834.7,1186.2 840.0,1190.0 C845.3,1193.8 850.0,1195.4 855.0,1200.0 C860.0,1204.6 865.0,1210.4 870.0,1217.5 C875.0,1224.6 880.4,1234.6 885.0,1242.5 C889.6,1250.4 893.3,1255.8 897.5,1265.0 C901.7,1274.2 905.4,1286.2 910.0,1297.5 C914.6,1308.8 920.8,1321.2 925.0,1332.5 C929.2,1343.8 931.7,1354.2 935.0,1365.0 C938.3,1375.8 941.7,1387.9 945.0,1397.5 C948.3,1407.1 951.7,1415.0 955.0,1422.5 C958.3,1430.0 961.2,1437.1 965.0,1442.5 C968.8,1447.9 973.8,1452.2 977.5,1455.0 C981.2,1457.8 982.1,1458.6 987.5,1459.0 C992.9,1459.4 1002.9,1456.9 1010.0,1457.5 C1017.1,1458.1 1024.2,1460.0 1030.0,1462.5 C1035.8,1465.0 1040.8,1470.0 1045.0,1472.5 C1049.2,1475.0 1050.0,1477.2 1055.0,1477.5 C1060.0,1477.8 1068.3,1473.8 1075.0,1474.0 C1081.7,1474.2 1088.8,1478.0 1095.0,1479.0 C1101.2,1480.0 1105.0,1481.1 1112.5,1480.0 C1120.0,1478.9 1130.0,1474.6 1140.0,1472.5 C1150.0,1470.4 1165.0,1470.4 1172.5,1467.5 C1180.0,1464.6 1179.6,1459.6 1185.0,1455.0 C1190.4,1450.4 1199.2,1441.8 1205.0,1440.0 C1210.8,1438.2 1215.8,1442.8 1220.0,1444.0 C1224.2,1445.2 1226.7,1449.8 1230.0,1447.5 C1233.3,1445.2 1237.1,1436.2 1240.0,1430.0 C1242.9,1423.8 1244.6,1415.7 1247.5,1410.0 C1250.4,1404.3 1254.6,1396.8 1257.5,1396.0 C1260.4,1395.2 1261.9,1400.3 1265.0,1405.0 C1268.1,1409.7 1272.9,1423.6 1276.2,1424.0 C1279.6,1424.4 1282.3,1415.2 1285.0,1407.5 C1287.7,1399.8 1290.0,1387.5 1292.5,1377.5 C1295.0,1367.5 1297.5,1357.1 1300.0,1347.5 C1302.5,1337.9 1305.0,1327.5 1307.5,1320.0 C1310.0,1312.5 1312.5,1306.0 1315.0,1302.5 C1317.5,1299.0 1318.8,1299.0 1322.5,1299.0 C1326.2,1299.0 1332.9,1302.2 1337.5,1302.5 C1342.1,1302.8 1345.4,1303.1 1350.0,1301.0 C1354.6,1298.9 1360.8,1294.8 1365.0,1290.0 C1369.2,1285.2 1371.2,1278.8 1375.0,1272.5 C1378.8,1266.2 1382.9,1258.8 1387.5,1252.5 C1392.1,1246.2 1397.9,1238.6 1402.5,1235.0 C1407.1,1231.4 1410.4,1231.8 1415.0,1231.0 C1419.6,1230.2 1425.0,1229.2 1430.0,1230.0 C1435.0,1230.8 1440.4,1235.6 1445.0,1236.0 C1449.6,1236.4 1451.7,1232.7 1457.5,1232.5 C1463.3,1232.3 1474.6,1233.9 1480.0,1235.0 C1485.4,1236.1 1486.2,1237.3 1490.0,1239.0 C1493.8,1240.7 1498.3,1244.2 1502.5,1245.0 C1506.7,1245.8 1510.4,1241.9 1515.0,1244.0 C1519.6,1246.1 1524.6,1255.5 1530.0,1257.5 C1535.4,1259.5 1542.9,1254.8 1547.5,1256.0 C1552.1,1257.2 1553.8,1261.8 1557.5,1265.0 C1561.2,1268.2 1565.0,1272.9 1570.0,1275.0 C1575.0,1277.1 1581.2,1278.2 1587.5,1277.5 C1593.8,1276.8 1601.2,1270.6 1607.5,1271.0 C1613.8,1271.4 1619.6,1277.2 1625.0,1280.0 C1630.4,1282.8 1635.4,1285.7 1640.0,1287.5 C1644.6,1289.3 1647.9,1288.9 1652.5,1291.0 C1657.1,1293.1 1662.5,1298.9 1667.5,1300.0 C1672.5,1301.1 1677.5,1295.4 1682.5,1297.5 C1687.5,1299.6 1691.2,1308.3 1697.5,1312.5 C1703.8,1316.7 1712.1,1321.7 1720.0,1322.5 C1727.9,1323.3 1737.1,1317.2 1745.0,1317.5 C1752.9,1317.8 1760.0,1325.9 1767.5,1324.0 C1775.0,1322.1 1784.6,1307.1 1790.0,1306.0 C1795.4,1304.9 1797.1,1311.0 1800.0,1317.5 C1802.9,1324.0 1804.6,1333.3 1807.5,1345.0 C1810.4,1356.7 1814.6,1373.3 1817.5,1387.5 C1820.4,1401.7 1821.7,1417.5 1825.0,1430.0 C1828.3,1442.5 1832.7,1454.3 1837.5,1462.5 C1842.3,1470.7 1848.8,1478.6 1853.8,1479.0 C1858.8,1479.4 1862.7,1468.2 1867.5,1465.0 C1872.3,1461.8 1877.9,1463.8 1882.5,1460.0 C1887.1,1456.2 1891.2,1448.2 1895.0,1442.5 C1898.8,1436.8 1901.2,1427.2 1905.0,1426.0 C1908.8,1424.8 1913.3,1433.9 1917.5,1435.0 C1921.7,1436.1 1925.8,1429.2 1930.0,1432.5 C1934.2,1435.8 1937.5,1447.5 1942.5,1455.0 C1947.5,1462.5 1955.8,1476.7 1960.0,1477.5 C1964.2,1478.3 1965.0,1472.5 1967.5,1460.0 C1970.0,1447.5 1972.5,1421.7 1975.0,1402.5 C1977.5,1383.3 1980.0,1363.8 1982.5,1345.0 C1985.0,1326.2 1987.1,1305.4 1990.0,1290.0 C1992.9,1274.6 1996.7,1255.8 2000.0,1252.5 C2003.3,1249.2 2006.7,1265.6 2010.0,1270.0 C2013.3,1274.4 2017.5,1274.8 2020.0,1279.0 C2022.5,1283.2 2023.2,1288.6 2025.0,1295.0 C2026.8,1301.4 2030.0,1313.8 2031.0,1317.5" stroke="#000" stroke-width="5.3"/>
</g>
<g>
<line x1="979.2" y1="567.5" x2="979.2" y2="1553.8" stroke="#2271CB" stroke-width="5.5" stroke-dasharray="26 20.67"/>
<line x1="1097.0" y1="595.0" x2="1096.2" y2="1552.5" stroke="#2271CB" stroke-width="5.5" stroke-dasharray="26 20.67"/>
<line x1="1232.0" y1="595.0" x2="1227.0" y2="1549.0" stroke="#2271CB" stroke-width="5.5" stroke-dasharray="26 20.67"/>
<line x1="1282.5" y1="590.0" x2="1276.5" y2="1548.8" stroke="#2271CB" stroke-width="5.5" stroke-dasharray="26 20.67"/>
<line x1="1355.0" y1="558.8" x2="1350.0" y2="1500.0" stroke="#2271CB" stroke-width="5.5" stroke-dasharray="26 20.67"/>
<line x1="1854.5" y1="618.8" x2="1855.0" y2="1530.0" stroke="#2271CB" stroke-width="5.5" stroke-dasharray="26 20.67"/>
<line x1="1951.0" y1="595.0" x2="1957.0" y2="1552.5" stroke="#2271CB" stroke-width="5.5" stroke-dasharray="26 20.67"/>
<line x1="912.5" y1="308.8" x2="912.5" y2="745.0" stroke="#F77C28" stroke-width="5.5" stroke-dasharray="26 20.67"/>
<line x1="1071.2" y1="306.2" x2="1071.2" y2="799.0" stroke="#F77C28" stroke-width="5.5" stroke-dasharray="26 20.67"/>
<line x1="1170.5" y1="281.2" x2="1170.5" y2="773.8" stroke="#F77C28" stroke-width="5.5" stroke-dasharray="26 20.67"/>
<line x1="1283.0" y1="246.2" x2="1283.0" y2="737.5" stroke="#F77C28" stroke-width="5.5" stroke-dasharray="26 20.67"/>
<line x1="1547.5" y1="275.0" x2="1547.5" y2="626.2" stroke="#F77C28" stroke-width="5.5" stroke-dasharray="26 20.67"/>
</g>
<text x="192.00" y="125.00" font-size="82.30" fill="#000" textLength="124.18" lengthAdjust="spacingAndGlyphs" stroke="#000" stroke-width="1.10">SiO</text>
<text x="314.00" y="143.00" font-size="56.25" fill="#000" textLength="31.22" lengthAdjust="spacingAndGlyphs" stroke="#000" stroke-width="1.10">2</text>
<text x="364.00" y="123.50" font-size="82.30" fill="#000" textLength="470.93" lengthAdjust="spacingAndGlyphs" stroke="#000" stroke-width="1.10">heated product</text>
<text x="208.50" y="293.00" font-size="80.60" fill="#000" textLength="247.47" lengthAdjust="spacingAndGlyphs" stroke="#000" stroke-width="1.10">5.0wt%</text>
<text x="209.50" y="456.50" font-size="80.60" fill="#000" textLength="246.49" lengthAdjust="spacingAndGlyphs" stroke="#000" stroke-width="1.10">4.0wt%</text>
<text x="206.50" y="585.00" font-size="80.60" fill="#000" textLength="246.05" lengthAdjust="spacingAndGlyphs" stroke="#000" stroke-width="1.10">3.0wt%</text>
<text x="209.00" y="708.50" font-size="80.60" fill="#000" textLength="246.25" lengthAdjust="spacingAndGlyphs" stroke="#000" stroke-width="1.10">2.0wt%</text>
<text x="206.50" y="871.00" font-size="80.60" fill="#000" textLength="243.08" lengthAdjust="spacingAndGlyphs" stroke="#000" stroke-width="1.10">1.0wt%</text>
<text x="237.00" y="1024.50" font-size="80.60" fill="#000" textLength="186.32" lengthAdjust="spacingAndGlyphs" stroke="#000" stroke-width="1.10">0wt%</text>
<text x="1023.50" y="246.50" font-size="84.40" fill="#F77C28" textLength="152.81" lengthAdjust="spacingAndGlyphs" stroke="#F77C28" stroke-width="1.10">Si-O</text>
<text x="1466.00" y="233.50" font-size="84.40" fill="#F77C28" textLength="152.16" lengthAdjust="spacingAndGlyphs" stroke="#F77C28" stroke-width="1.10">Si-O</text>
<text x="1106.50" y="1599.00" font-size="81.30" fill="#2271CB" textLength="104.62" lengthAdjust="spacingAndGlyphs" stroke="#2271CB" stroke-width="1.10">PO</text>
<text x="1210.50" y="1618.00" font-size="56.00" fill="#2271CB" textLength="26.02" lengthAdjust="spacingAndGlyphs" stroke="#2271CB" stroke-width="1.10">4</text>
<text x="1844.00" y="1601.50" font-size="81.30" fill="#2271CB" textLength="104.81" lengthAdjust="spacingAndGlyphs" stroke="#2271CB" stroke-width="1.10">PO</text>
<text x="1947.50" y="1621.50" font-size="56.00" fill="#2271CB" textLength="27.06" lengthAdjust="spacingAndGlyphs" stroke="#2271CB" stroke-width="1.10">4</text>
<text x="251.00" y="1760.50" font-size="90.00" fill="#000" textLength="175.59" lengthAdjust="spacingAndGlyphs" stroke="#000" stroke-width="1.10">1500</text>
<text x="590.00" y="1760.50" font-size="90.00" fill="#000" textLength="177.11" lengthAdjust="spacingAndGlyphs" stroke="#000" stroke-width="1.10">1300</text>
<text x="928.50" y="1760.50" font-size="90.00" fill="#000" textLength="177.35" lengthAdjust="spacingAndGlyphs" stroke="#000" stroke-width="1.10">1100</text>
<text x="1290.50" y="1760.50" font-size="90.00" fill="#000" textLength="133.14" lengthAdjust="spacingAndGlyphs" stroke="#000" stroke-width="1.10">900</text>
<text x="1626.00" y="1760.50" font-size="90.00" fill="#000" textLength="137.57" lengthAdjust="spacingAndGlyphs" stroke="#000" stroke-width="1.10">700</text>
<text x="1967.00" y="1760.50" font-size="90.00" fill="#000" textLength="135.87" lengthAdjust="spacingAndGlyphs" stroke="#000" stroke-width="1.10">500</text>
<text x="725.00" y="1882.00" font-size="91.64" fill="#000" textLength="621.93" lengthAdjust="spacingAndGlyphs" stroke="#000" stroke-width="1.10">Wavenumber /cm</text>
<text x="1355.00" y="1856.00" font-size="64.82" fill="#000" textLength="36.91" lengthAdjust="spacingAndGlyphs" stroke="#000" stroke-width="1.10">-1</text>
<text transform="translate(86.00,1159.00) rotate(-90)" x="0" y="0" font-size="90.60" fill="#000" textLength="698.83" lengthAdjust="spacingAndGlyphs" stroke="#000" stroke-width="1.10">Transmittance / a.u.</text>
</svg>
</body></html>
